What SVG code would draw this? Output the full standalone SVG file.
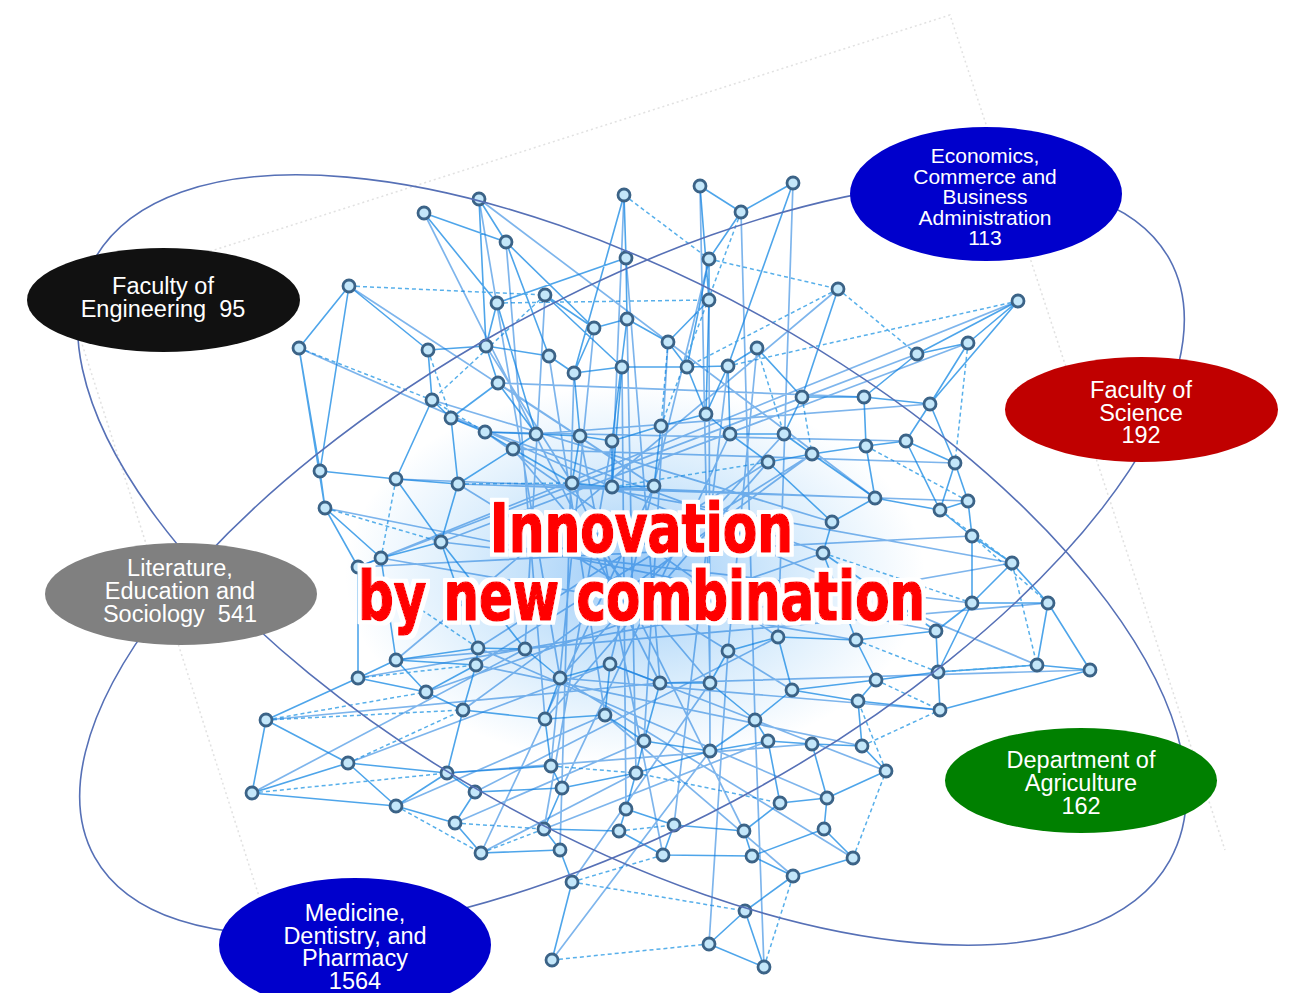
<svg xmlns="http://www.w3.org/2000/svg" width="1290" height="993" viewBox="0 0 1290 993">
<defs>
<radialGradient id="glow" cx="0.5" cy="0.5" r="0.5">
<stop offset="0" stop-color="#1f88ee" stop-opacity="0.45"/>
<stop offset="0.6" stop-color="#3a9ff0" stop-opacity="0.18"/>
<stop offset="1" stop-color="#3a9ff0" stop-opacity="0"/>
</radialGradient>
<filter id="halo" x="-10%" y="-30%" width="120%" height="160%">
<feMorphology in="SourceAlpha" operator="dilate" radius="3.5" result="d"/>
<feFlood flood-color="#ffffff"/>
<feComposite in2="d" operator="in" result="w"/>
<feMerge><feMergeNode in="w"/><feMergeNode in="SourceGraphic"/></feMerge>
</filter>
</defs>
<style>
.frame{fill:none;stroke:#d4d4d4;stroke-width:1.5;stroke-dasharray:2 3;opacity:.7}
.loop{fill:none;stroke:#5670b6;stroke-width:1.6}
.cs{fill:none;stroke:#2f95e6;stroke-width:1.6;opacity:.85}
.cd{fill:none;stroke:#45a6e8;stroke-width:1.5;stroke-dasharray:4 3;opacity:.9}
.cl{fill:none;stroke:#1479dc;stroke-width:1.7;opacity:.55}
.nd{fill:#c4e7fa;stroke:#3b6387;stroke-width:2.8}
.lbl{font-family:"Liberation Sans",Arial,sans-serif;font-size:23.5px;fill:#ffffff;text-anchor:middle}
.lbs{font-size:21px}
.big{font-family:"DejaVu Sans Condensed","DejaVu Sans",sans-serif;font-weight:700;font-size:67px;fill:#ff0000;stroke:#ff0000;stroke-width:1.6;stroke-linejoin:round}
</style>
<rect width="1290" height="993" fill="#ffffff"/>
<g id="frame">
<path class="frame" d="M67 297L950 15L1225 850M67 297L290 993"/>
</g>
<ellipse cx="635" cy="575" rx="290" ry="190" fill="url(#glow)"/>
<g id="connectors">
<path class="cs" d="M424 213L506 242M424 213L497 303M479 199L506 242M479 199L486 346M506 242L549 356M506 242L594 328M624 195L626 258M624 195L574 373M700 186L741 212M700 186L709 300M793 183L741 212M793 183L728 366M741 212L709 259M626 258L627 319M626 258L497 303M709 259L709 300M709 259L687 367M349 286L299 348M349 286L428 350M349 286L320 471M497 303L486 346M497 303L536 434M545 295L594 328M545 295L622 367M709 300L668 342M709 300L706 414M838 289L802 397M1018 301L917 354M1018 301L968 343M1018 301L930 404M594 328L627 319M594 328L574 373M627 319L668 342M627 319L612 441M668 342L687 367M757 348L728 366M757 348L802 397M299 348L320 471M299 348L325 508M428 350L486 346M428 350L432 400M486 346L498 383M486 346L549 356M549 356L574 373M917 354L968 343M917 354L864 397M968 343L930 404M574 373L622 367M574 373L580 436M622 367L687 367M622 367L612 487M687 367L728 366M687 367L706 414M728 366L706 414M728 366L730 434M498 383L451 418M498 383L536 434M432 400L451 418M432 400L396 479M802 397L864 397M802 397L784 434M864 397L930 404M864 397L866 446M930 404L906 441M930 404L955 463M451 418L485 432M451 418L458 484M706 414L661 426M706 414L730 434M485 432L513 449M485 432L536 434M536 434L580 436M536 434L513 449M580 436L612 441M580 436L572 483M612 441L661 426M612 441L612 487M661 426L654 486M730 434L784 434M730 434L768 462M784 434L812 454M866 446L906 441M866 446L812 454M866 446L875 498M906 441L955 463M906 441L940 510M513 449L458 484M513 449L572 483M768 462L812 454M768 462L832 522M812 454L875 498M955 463L968 501M955 463L940 510M320 471L396 479M320 471L325 508M396 479L458 484M396 479L441 542M458 484L441 542M572 483L612 487M612 487L654 486M875 498L940 510M875 498L832 522M968 501L972 536M968 501L940 510M325 508L358 567M325 508L381 558M940 510L972 536M832 522L823 553M441 542L381 558M441 542L478 648M441 542L525 649M972 536L1012 563M972 536L972 603M381 558L358 567M381 558L396 660M358 567L358 678M823 553L936 631M823 553L856 640M1012 563L1048 603M1012 563L972 603M972 603L1048 603M972 603L936 631M972 603L938 672M1048 603L1037 665M1048 603L1090 670M936 631L938 672M936 631L856 640M778 637L856 640M778 637L728 651M778 637L792 690M478 648L525 649M478 648L476 665M478 648L396 660M525 649L560 678M396 660L358 678M396 660L426 692M396 660L476 665M1037 665L1090 670M1037 665L938 672M1090 670L940 710M938 672L876 680M938 672L940 710M856 640L876 680M358 678L426 692M358 678L266 720M476 665L426 692M476 665L463 710M560 678L610 664M560 678L545 719M610 664L660 683M610 664L605 715M660 683L710 683M660 683L644 741M710 683L728 651M710 683L755 720M792 690L876 680M792 690L755 720M792 690L858 701M876 680L858 701M426 692L463 710M463 710L545 719M463 710L447 773M545 719L605 715M545 719L551 766M605 715L644 741M755 720L710 751M755 720L768 741M858 701L940 710M858 701L862 746M266 720L348 763M266 720L252 793M644 741L710 751M644 741L636 773M710 751L768 741M710 751L636 773M768 741L812 744M768 741L780 803M812 744L862 746M812 744L827 798M862 746L886 771M551 766L562 788M551 766L447 773M348 763L252 793M348 763L396 806M348 763L447 773M447 773L475 792M447 773L396 806M636 773L626 809M636 773L562 788M886 771L827 798M252 793L396 806M475 792L455 823M475 792L562 788M562 788L544 829M396 806L455 823M780 803L827 798M780 803L744 831M827 798L824 829M626 809L619 831M626 809L674 825M455 823L481 853M544 829L560 850M544 829L619 831M619 831L663 855M674 825L744 831M674 825L663 855M744 831L752 856M824 829L853 858M824 829L752 856M481 853L560 850M560 850L572 882M663 855L752 856M752 856L793 876M853 858L793 876M572 882L552 960M793 876L745 911M745 911L709 944M745 911L764 967M709 944L764 967"/>
<path class="cd" d="M624 195L709 259M741 212L661 426M709 259L838 289M349 286L545 295M497 303L709 300M545 295L432 400M668 342L661 426M838 289L917 354M838 289L687 367M1018 301L728 366M299 348L432 400M968 343L955 463M757 348L784 434M428 350L451 418M432 400L485 432M802 397L812 454M866 446L968 501M612 487L768 462M458 484L572 483M325 508L441 542M940 510L1012 563M396 479L381 558M823 553L972 603M972 536L1048 603M358 567L478 648M938 672L1037 665M358 678L476 665M266 720L426 692M266 720L463 710M856 640L938 672M876 680L940 710M348 763L463 710M252 793L447 773M862 746L940 710M886 771L858 701M551 766L636 773M636 773L780 803M455 823L544 829M396 806L481 853M619 831L674 825M853 858L886 771M481 853L544 829M572 882L663 855M552 960L709 944M764 967L793 876M572 882L745 911M1012 563L1037 665"/>
<path class="cl" d="M479 199L560 678M506 242L545 719M624 195L612 487M700 186L710 683M793 183L778 637M741 212L755 720M626 258L660 683M709 259L610 664M545 295L525 649M709 300L710 751M594 328L551 766M627 319L636 773M668 342L644 741M757 348L728 651M486 346L572 483M549 356L605 715M574 373L560 850M622 367L626 809M728 366L674 825M498 383L654 486M432 400L832 522M451 418L823 553M485 432L778 637M580 436L663 855M612 441L544 829M730 434L562 788M784 434L560 678M513 449L710 683M768 462L545 719M812 454L476 665M396 479L875 498M458 484L792 690M572 483L744 831M654 486L481 853M325 508L936 631M441 542L972 603M381 558L856 640M358 567L972 536M478 648L768 462M396 660L1048 603M358 678L1012 563M426 692L823 553M463 710L812 454M266 720L660 683M348 763L610 664M447 773L812 744M252 793L525 649M475 792L778 637M396 806L605 715M455 823L644 741M544 829L768 741M481 853L636 773M572 882L710 683M552 960L710 751M709 944L728 651M764 967L755 720M793 876L605 715M853 858L560 678M827 798L478 648M862 746L476 665M886 771L610 664M940 710L560 678M1090 670L660 683M1037 665L612 487M1012 563L572 483M968 501L458 484M955 463L513 449M906 441L485 432M930 404L536 434M864 397L498 383M968 343L441 542M917 354L381 558M1018 301L358 567M838 289L396 660M349 286L654 486M299 348L612 487M424 213L660 683M479 199L875 498"/>
</g>
<g id="network-nodes">
<circle class="nd" cx="479" cy="199" r="6"/><circle class="nd" cx="424" cy="213" r="6"/><circle class="nd" cx="624" cy="195" r="6"/><circle class="nd" cx="700" cy="186" r="6"/><circle class="nd" cx="793" cy="183" r="6"/><circle class="nd" cx="741" cy="212" r="6"/><circle class="nd" cx="506" cy="242" r="6"/><circle class="nd" cx="626" cy="258" r="6"/><circle class="nd" cx="709" cy="259" r="6"/><circle class="nd" cx="349" cy="286" r="6"/><circle class="nd" cx="497" cy="303" r="6"/><circle class="nd" cx="545" cy="295" r="6"/><circle class="nd" cx="709" cy="300" r="6"/><circle class="nd" cx="838" cy="289" r="6"/><circle class="nd" cx="1018" cy="301" r="6"/><circle class="nd" cx="594" cy="328" r="6"/><circle class="nd" cx="627" cy="319" r="6"/><circle class="nd" cx="668" cy="342" r="6"/><circle class="nd" cx="757" cy="348" r="6"/><circle class="nd" cx="299" cy="348" r="6"/><circle class="nd" cx="428" cy="350" r="6"/><circle class="nd" cx="486" cy="346" r="6"/><circle class="nd" cx="549" cy="356" r="6"/><circle class="nd" cx="917" cy="354" r="6"/><circle class="nd" cx="968" cy="343" r="6"/><circle class="nd" cx="574" cy="373" r="6"/><circle class="nd" cx="622" cy="367" r="6"/><circle class="nd" cx="687" cy="367" r="6"/><circle class="nd" cx="728" cy="366" r="6"/><circle class="nd" cx="498" cy="383" r="6"/><circle class="nd" cx="432" cy="400" r="6"/><circle class="nd" cx="802" cy="397" r="6"/><circle class="nd" cx="864" cy="397" r="6"/><circle class="nd" cx="930" cy="404" r="6"/><circle class="nd" cx="451" cy="418" r="6"/><circle class="nd" cx="706" cy="414" r="6"/><circle class="nd" cx="485" cy="432" r="6"/><circle class="nd" cx="536" cy="434" r="6"/><circle class="nd" cx="580" cy="436" r="6"/><circle class="nd" cx="612" cy="441" r="6"/><circle class="nd" cx="661" cy="426" r="6"/><circle class="nd" cx="730" cy="434" r="6"/><circle class="nd" cx="784" cy="434" r="6"/><circle class="nd" cx="866" cy="446" r="6"/><circle class="nd" cx="906" cy="441" r="6"/><circle class="nd" cx="513" cy="449" r="6"/><circle class="nd" cx="768" cy="462" r="6"/><circle class="nd" cx="812" cy="454" r="6"/><circle class="nd" cx="955" cy="463" r="6"/><circle class="nd" cx="320" cy="471" r="6"/><circle class="nd" cx="396" cy="479" r="6"/><circle class="nd" cx="458" cy="484" r="6"/><circle class="nd" cx="572" cy="483" r="6"/><circle class="nd" cx="612" cy="487" r="6"/><circle class="nd" cx="654" cy="486" r="6"/><circle class="nd" cx="875" cy="498" r="6"/><circle class="nd" cx="968" cy="501" r="6"/><circle class="nd" cx="325" cy="508" r="6"/><circle class="nd" cx="940" cy="510" r="6"/><circle class="nd" cx="832" cy="522" r="6"/><circle class="nd" cx="441" cy="542" r="6"/><circle class="nd" cx="972" cy="536" r="6"/><circle class="nd" cx="381" cy="558" r="6"/><circle class="nd" cx="358" cy="567" r="6"/><circle class="nd" cx="823" cy="553" r="6"/><circle class="nd" cx="1012" cy="563" r="6"/><circle class="nd" cx="972" cy="603" r="6"/><circle class="nd" cx="1048" cy="603" r="6"/><circle class="nd" cx="936" cy="631" r="6"/><circle class="nd" cx="778" cy="637" r="6"/><circle class="nd" cx="478" cy="648" r="6"/><circle class="nd" cx="525" cy="649" r="6"/><circle class="nd" cx="396" cy="660" r="6"/><circle class="nd" cx="1037" cy="665" r="6"/><circle class="nd" cx="1090" cy="670" r="6"/><circle class="nd" cx="938" cy="672" r="6"/><circle class="nd" cx="856" cy="640" r="6"/><circle class="nd" cx="358" cy="678" r="6"/><circle class="nd" cx="476" cy="665" r="6"/><circle class="nd" cx="560" cy="678" r="6"/><circle class="nd" cx="610" cy="664" r="6"/><circle class="nd" cx="660" cy="683" r="6"/><circle class="nd" cx="710" cy="683" r="6"/><circle class="nd" cx="792" cy="690" r="6"/><circle class="nd" cx="876" cy="680" r="6"/><circle class="nd" cx="426" cy="692" r="6"/><circle class="nd" cx="728" cy="651" r="6"/><circle class="nd" cx="463" cy="710" r="6"/><circle class="nd" cx="545" cy="719" r="6"/><circle class="nd" cx="605" cy="715" r="6"/><circle class="nd" cx="755" cy="720" r="6"/><circle class="nd" cx="858" cy="701" r="6"/><circle class="nd" cx="940" cy="710" r="6"/><circle class="nd" cx="266" cy="720" r="6"/><circle class="nd" cx="644" cy="741" r="6"/><circle class="nd" cx="710" cy="751" r="6"/><circle class="nd" cx="768" cy="741" r="6"/><circle class="nd" cx="812" cy="744" r="6"/><circle class="nd" cx="862" cy="746" r="6"/><circle class="nd" cx="551" cy="766" r="6"/><circle class="nd" cx="348" cy="763" r="6"/><circle class="nd" cx="447" cy="773" r="6"/><circle class="nd" cx="636" cy="773" r="6"/><circle class="nd" cx="886" cy="771" r="6"/><circle class="nd" cx="252" cy="793" r="6"/><circle class="nd" cx="475" cy="792" r="6"/><circle class="nd" cx="562" cy="788" r="6"/><circle class="nd" cx="396" cy="806" r="6"/><circle class="nd" cx="780" cy="803" r="6"/><circle class="nd" cx="827" cy="798" r="6"/><circle class="nd" cx="626" cy="809" r="6"/><circle class="nd" cx="455" cy="823" r="6"/><circle class="nd" cx="544" cy="829" r="6"/><circle class="nd" cx="619" cy="831" r="6"/><circle class="nd" cx="674" cy="825" r="6"/><circle class="nd" cx="744" cy="831" r="6"/><circle class="nd" cx="824" cy="829" r="6"/><circle class="nd" cx="481" cy="853" r="6"/><circle class="nd" cx="560" cy="850" r="6"/><circle class="nd" cx="663" cy="855" r="6"/><circle class="nd" cx="752" cy="856" r="6"/><circle class="nd" cx="853" cy="858" r="6"/><circle class="nd" cx="572" cy="882" r="6"/><circle class="nd" cx="793" cy="876" r="6"/><circle class="nd" cx="745" cy="911" r="6"/><circle class="nd" cx="709" cy="944" r="6"/><circle class="nd" cx="552" cy="960" r="6"/><circle class="nd" cx="764" cy="967" r="6"/>
</g>
<g id="loops">
<ellipse class="loop" cx="632" cy="558" rx="615" ry="262" transform="rotate(-29.1 632 558)"/>
<ellipse class="loop" cx="632" cy="560" rx="616" ry="276" transform="rotate(29.2 632 560)"/>
</g>
<g id="title" filter="url(#halo)">
<text class="big" x="490" y="552" textLength="303" lengthAdjust="spacingAndGlyphs">Innovation</text>
<text class="big" x="358" y="620" textLength="567" lengthAdjust="spacingAndGlyphs">by new combination</text>
</g>
<g id="engineering">
<ellipse cx="163.5" cy="300" rx="136.5" ry="52" fill="#111111"/>
<text class="lbl"><tspan x="163" y="294">Faculty of</tspan><tspan x="163" y="317">Engineering&#160; 95</tspan></text>
</g>
<g id="economics">
<ellipse cx="986" cy="194" rx="136" ry="67" fill="#0000cc"/>
<text class="lbl lbs"><tspan x="985" y="163">Economics,</tspan><tspan x="985" y="183.5">Commerce and</tspan><tspan x="985" y="204">Business</tspan><tspan x="985" y="224.5">Administration</tspan><tspan x="985" y="245">113</tspan></text>
</g>
<g id="science">
<ellipse cx="1141.5" cy="409.5" rx="136.5" ry="52.5" fill="#c00000"/>
<text class="lbl"><tspan x="1141" y="398">Faculty of</tspan><tspan x="1141" y="420.5">Science</tspan><tspan x="1141" y="443">192</tspan></text>
</g>
<g id="literature">
<ellipse cx="181" cy="594" rx="136" ry="51" fill="#808080"/>
<text class="lbl"><tspan x="180" y="576">Literature,</tspan><tspan x="180" y="599">Education and</tspan><tspan x="180" y="622">Sociology&#160; 541</tspan></text>
</g>
<g id="agriculture">
<ellipse cx="1081" cy="780.5" rx="136" ry="52.5" fill="#008000"/>
<text class="lbl"><tspan x="1081" y="768">Department of</tspan><tspan x="1081" y="791">Agriculture</tspan><tspan x="1081" y="814">162</tspan></text>
</g>
<g id="medicine">
<ellipse cx="355" cy="945" rx="136" ry="67" fill="#0000cc"/>
<text class="lbl"><tspan x="355" y="921">Medicine,</tspan><tspan x="355" y="943.5">Dentistry, and</tspan><tspan x="355" y="966">Pharmacy</tspan><tspan x="355" y="988.5">1564</tspan></text>
</g>
</svg>
